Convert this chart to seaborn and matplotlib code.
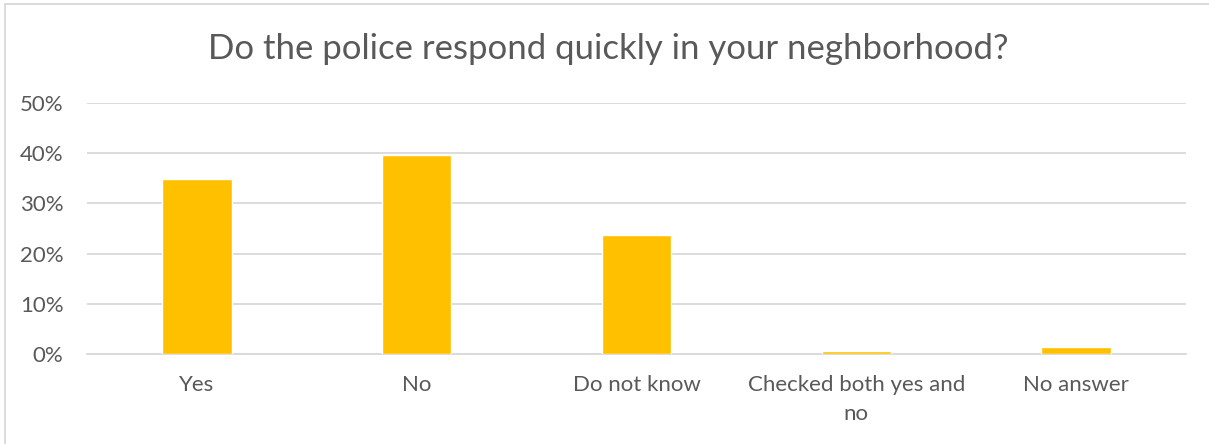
import numpy as np
import pandas as pd
import seaborn as sns
import matplotlib.pyplot as plt
from matplotlib.lines import Line2D
from matplotlib.ticker import PercentFormatter

categories = ["Yes", "No", "Do not know", "Checked both yes and\nno", "No answer"]
shares = [0.348, 0.396, 0.237, 0.006, 0.014]

df = pd.DataFrame({"answer": categories, "share": shares})

sns.set_theme(style="white")
plt.rcParams['font.family'] = ['Lato', 'DejaVu Sans']

text_color = "#595959"
grid_color = "#D9D9D9"
bar_color = "#FFC000"

fig = plt.figure(figsize=(12.09, 4.44), dpi=100)
ax = fig.add_axes([87 / 1209, 1 - 354 / 444, (1186 - 87) / 1209, (354 - 103) / 444])

sns.barplot(data=df, x="answer", y="share", color=bar_color, width=0.315,
            saturation=1, ax=ax, zorder=3)

ax.set_ylim(0, 0.5)
ax.set_xlim(-0.5, len(categories) - 0.5)
ax.set_yticks(np.arange(0, 0.51, 0.1))
ax.yaxis.set_major_formatter(PercentFormatter(1.0, decimals=0))
ax.grid(axis="y", color=grid_color, linewidth=1.3, zorder=0)
ax.grid(axis="x", visible=False)
for side in ["top", "right", "left"]:
    ax.spines[side].set_visible(False)
ax.spines["bottom"].set_color(grid_color)
ax.spines["bottom"].set_linewidth(1.3)
ax.tick_params(axis="both", length=0, labelsize=16, labelcolor=text_color)
ax.tick_params(axis="x", pad=15)
ax.tick_params(axis="y", pad=17)
for lbl in ax.get_xticklabels():
    lbl.set_linespacing(1.6)
ax.set_xlabel("")
ax.set_ylabel("")

fig.text(0.503, 1 - 49 / 444, "Do the police respond quickly in your neghborhood?",
         ha="center", va="center", fontsize=25, color=text_color)

# chart frame, cut off at the right and bottom
fig.add_artist(Line2D([5 / 1209, 5 / 1209], [0, 1 - 4 / 444], color=grid_color, lw=1.3))
fig.add_artist(Line2D([5 / 1209, 1], [1 - 4 / 444, 1 - 4 / 444], color=grid_color, lw=1.3))

plt.savefig("out.png", dpi=100)
plt.close()
